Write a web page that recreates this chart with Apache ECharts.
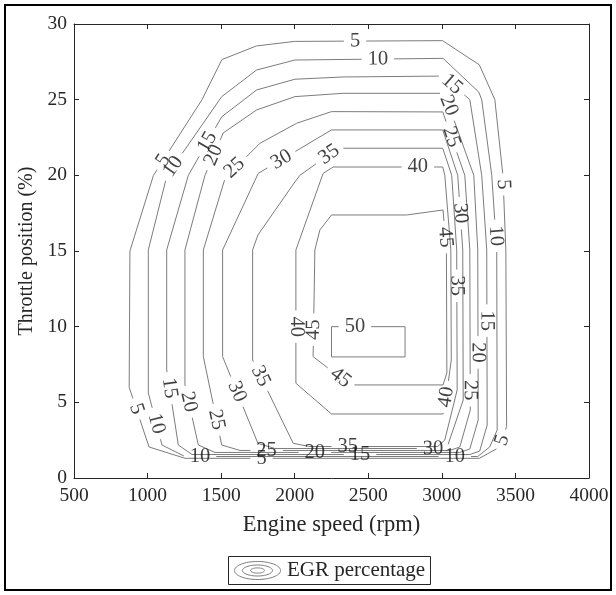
<!DOCTYPE html>
<html>
<head>
<meta charset="utf-8">
<script src="https://cdn.jsdelivr.net/npm/echarts@6/dist/echarts.min.js"></script>
<style>
  html, body { margin: 0; padding: 0; background: #ffffff; }
  #chart { width: 616px; height: 595px; }
</style>
</head>
<body>
<div id="chart"></div>
<script>
// Axis ranges (engine speed in rpm, throttle position in %)
const speedRange = [500, 4000];
const speedStep = 500;
const throttleRange = [0, 30];
const throttleStep = 5;

// EGR percentage iso-lines, each a closed path of [rpm, throttle %]
const egrLevels = [5, 10, 15, 20, 25, 30, 35, 40, 45, 50];

const egr05 = [[1255,1.3],[3255,1.3],[3395,2.05],[3440,3.4],[3435,15],[3415,20],[3360,25],[3255,27.3],[3005,28.9],[2000,28.85],[1740,28.55],[1505,27.65],[1370,25],[1040,20],[880,15],[875,6],[1010,2.05],[1255,1.3]];
const egr10 = [[1254,1.42],[3244,1.42],[3325,2.05],[3376,3.17],[3373,15.07],[3339,20],[3271,25],[3251,25.5],[3008,27.73],[2001,27.62],[1741,26.96],[1504,25.2],[1132,20],[1005,15.07],[1005,5.62],[1098,2.18],[1254,1.42]];
const egr15 = [[1302,1.55],[3190,1.55],[3257,1.78],[3308,3.5],[3305,15.07],[3271,20],[3190,25],[3006,26.56],[2329,26.5],[2001,26.35],[1741,25.64],[1504,23.87],[1277,20],[1130,15.07],[1130,7.14],[1209,2.18],[1302,1.55]];
const egr20 = [[1458,1.69],[3122,1.69],[3190,1.92],[3247,3.83],[3244,15.07],[3217,20],[3033,25],[3006,25.42],[2329,25.42],[2001,25.2],[1741,24.32],[1514,22.8],[1390,20],[1254,15.07],[1254,6.15],[1345,2.18],[1458,1.69]];
const egr25 = [[1628,1.82],[3054,1.82],[3122,2.05],[3193,4.49],[3190,15.07],[3156,20],[3006,24.19],[2250,24.21],[2013,23.44],[1764,22.12],[1662,21.13],[1533,20],[1379,15.07],[1379,8.02],[1504,2.18],[1628,1.82]];
const egr30 = [[1866,1.95],[2999,1.95],[3054,2.29],[3145,5.15],[3142,15.07],[3108,20],[3006,23],[2250,23],[2001,21.56],[1752,20.13],[1510,15.07],[1510,8.02],[1750,2.29],[1866,1.95]];
const egr35 = [[2103,2.08],[2972,2.08],[3020,2.51],[3104,5.82],[3101,15.07],[3067,20],[3006,21.79],[2293,21.79],[2035,20],[2001,19.56],[1750,16.06],[1714,15.07],[1714,7.8],[1990,2.29],[2103,2.08]];
const egr40 = [[2250,4.23],[3008,4.23],[3027,5.15],[3064,7.8],[3061,15.07],[3020,20],[3006,20.55],[2261,20.55],[2193,20.13],[2008,15.07],[2008,6.26],[2250,4.23]];
const egr45 = [[2375,6.15],[3008,6.15],[3034,6.94],[3031,15.07],[3008,17.71],[2760,17.38],[2250,17.38],[2171,16.39],[2137,15.07],[2125,8.02],[2375,6.15]];
const egr50 = [[2250,8],[2750,8],[2750,10],[2250,10],[2250,8]];

const egrPaths = [egr05, egr10, egr15, egr20, egr25, egr30, egr35, egr40, egr45, egr50];

// Approximate spots [rpm, throttle %] where each level is labelled on its line
const labelSpots = [
  [[2410,28.9],[1105,21],[905,4.5],[3408,19.4],[3439,2.4],[1775,1.3]],
  [[2565,27.7],[1170,20.6],[1060,3.6],[1356,1.42],[3360,16],[3088,1.42]],
  [[3067,26.0],[1424,22.1],[1125,5.9],[2444,1.55],[3305,10.4]],
  [[3040,24.6],[1480,21.2],[1265,5],[2137,1.69],[3244,8.3]],
  [[3054,22.5],[1590,20.5],[1444,3.8],[1809,1.82],[3201,5.8]],
  [[1900,21.2],[1580,5.6],[3133,17.5],[2940,1.95]],
  [[2225,21.5],[1741,6.6],[3101,12.7],[2361,2.08]],
  [[2837,20.55],[2008,10],[3033,5.35]],
  [[3010,15.9],[2137,9.8],[2286,6.3]],
  [[2409,10]]
];

const FONT = '"Liberation Serif", "Times New Roman", serif';
const INK = '#262626';
const ISO = '#7c7c7c';
const LABEL_SIZE = 20.5;

const chart = echarts.init(document.getElementById('chart'), null, { renderer: 'canvas' });

function ellipsePoints(cx, cy, rx, ry) {
  const pts = [];
  for (let i = 0; i < 64; i++) {
    const a = i / 64 * Math.PI * 2;
    pts.push([cx + rx * Math.cos(a), cy + ry * Math.sin(a)]);
  }
  return pts;
}

const axisCommon = {
  type: 'value',
  axisLine: { show: true, onZero: false, lineStyle: { color: INK, width: 1 } },
  axisTick: { show: true, inside: true, length: 5, lineStyle: { color: INK, width: 1 } },
  splitLine: { show: false }
};

const plainNumber = v => String(v);

const baseOption = {
  animation: false,
  backgroundColor: '#ffffff',
  grid: { left: 74, right: 27, top: 24, bottom: 117, outerBoundsMode: 'none', containLabel: false },
  xAxis: [
    Object.assign({}, axisCommon, {
      min: speedRange[0], max: speedRange[1], interval: speedStep, position: 'bottom',
      name: 'Engine speed (rpm)', nameLocation: 'middle', nameGap: 36,
      nameTextStyle: { fontFamily: FONT, fontSize: 22.5, color: INK },
      axisLabel: { margin: 8, fontFamily: FONT, fontSize: 19.5, color: INK, formatter: plainNumber }
    }),
    Object.assign({}, axisCommon, {
      min: speedRange[0], max: speedRange[1], interval: speedStep, position: 'top',
      axisLabel: { show: false }
    })
  ],
  yAxis: [
    Object.assign({}, axisCommon, {
      min: throttleRange[0], max: throttleRange[1], interval: throttleStep, position: 'left',
      name: 'Throttle position (%)', nameLocation: 'middle', nameGap: 37,
      nameTextStyle: { fontFamily: FONT, fontSize: 20, color: INK },
      axisLabel: { margin: 7, fontFamily: FONT, fontSize: 19.5, color: INK, formatter: plainNumber }
    }),
    Object.assign({}, axisCommon, {
      min: throttleRange[0], max: throttleRange[1], interval: throttleStep, position: 'right',
      axisLabel: { show: false }
    })
  ],
  graphic: [
    { type: 'rect', shape: { x: 5, y: 5, width: 606, height: 585 },
      style: { fill: 'none', stroke: '#000000', lineWidth: 2 }, silent: true },
    { type: 'rect', shape: { x: 228.5, y: 556.5, width: 202, height: 28 },
      style: { fill: '#ffffff', stroke: INK, lineWidth: 1 }, silent: true },
    { type: 'polygon', shape: { points: ellipsePoints(257.5, 570.5, 23, 9) },
      style: { fill: 'none', stroke: ISO, lineWidth: 1 }, silent: true },
    { type: 'polygon', shape: { points: ellipsePoints(257.5, 570.5, 15, 5.5) },
      style: { fill: 'none', stroke: ISO, lineWidth: 1 }, silent: true },
    { type: 'polygon', shape: { points: ellipsePoints(257.5, 570.5, 7, 2.6) },
      style: { fill: 'none', stroke: ISO, lineWidth: 1 }, silent: true },
    { type: 'text', x: 287, y: 570.5,
      style: { text: 'EGR percentage', font: '21px ' + FONT, fill: INK, textVerticalAlign: 'middle', verticalAlign: 'middle' },
      silent: true }
  ],
  series: egrPaths.map(p => ({
    type: 'line', data: p, showSymbol: false, symbol: 'none', silent: true,
    lineStyle: { color: ISO, width: 1 }
  }))
};

chart.setOption(baseOption);

// ---- contour label placement: break each line where its label sits ----
const finder = { xAxisIndex: 0, yAxisIndex: 0 };
const toPx = p => chart.convertToPixel(finder, p);
const toData = p => chart.convertFromPixel(finder, p);

const measureCtx = document.createElement('canvas').getContext('2d');
measureCtx.font = LABEL_SIZE + 'px ' + FONT;

function cumLengths(px) {
  const c = [0];
  for (let i = 1; i < px.length; i++) {
    c.push(c[i - 1] + Math.hypot(px[i][0] - px[i - 1][0], px[i][1] - px[i - 1][1]));
  }
  return c;
}

function pointAt(px, cum, s) {
  const L = cum[cum.length - 1];
  s = Math.max(0, Math.min(L, s));
  for (let i = 1; i < px.length; i++) {
    if (s <= cum[i]) {
      const seg = cum[i] - cum[i - 1];
      const t = seg ? (s - cum[i - 1]) / seg : 0;
      return [px[i - 1][0] + t * (px[i][0] - px[i - 1][0]), px[i - 1][1] + t * (px[i][1] - px[i - 1][1])];
    }
  }
  return px[px.length - 1].slice();
}

function nearestOnPath(px, cum, q) {
  let best = { d: Infinity, s: 0 };
  for (let i = 1; i < px.length; i++) {
    const a = px[i - 1], b = px[i];
    const dx = b[0] - a[0], dy = b[1] - a[1];
    const L2 = dx * dx + dy * dy;
    let t = L2 ? ((q[0] - a[0]) * dx + (q[1] - a[1]) * dy) / L2 : 0;
    t = Math.max(0, Math.min(1, t));
    const x = a[0] + t * dx, y = a[1] + t * dy;
    const d = Math.hypot(q[0] - x, q[1] - y);
    if (d < best.d) best = { d: d, s: cum[i - 1] + t * Math.sqrt(L2) };
  }
  return best;
}

function splitPath(px, cum, gaps) {
  const L = cum[cum.length - 1];
  const g = [];
  gaps.forEach(([a, b]) => {
    if (a < 0) { g.push([L + a, L]); g.push([0, b]); }
    else if (b > L) { g.push([a, L]); g.push([0, b - L]); }
    else g.push([a, b]);
  });
  const events = [];
  cum.forEach((s, i) => events.push({ s: s, k: 1, i: i }));
  g.forEach(([a, b]) => { events.push({ s: a, k: 0 }); events.push({ s: b, k: 2 }); });
  events.sort((p, q) => (p.s - q.s) || (p.k - q.k));
  const pieces = [];
  let cur = [];
  let depth = 0;
  for (const e of events) {
    if (e.k === 0) {
      if (depth === 0) {
        cur.push(pointAt(px, cum, e.s));
        if (cur.length > 1) pieces.push(cur);
        cur = [];
      }
      depth++;
    } else if (e.k === 2) {
      depth--;
      if (depth === 0) cur = [pointAt(px, cum, e.s)];
    } else if (depth === 0) {
      cur.push(px[e.i]);
    }
  }
  if (cur.length > 1) pieces.push(cur);
  return pieces;
}

const lineSeries = [];
const labelData = [];

egrPaths.forEach((path, li) => {
  const level = egrLevels[li];
  const text = String(level);
  const w = measureCtx.measureText(text).width;
  const half = w / 2 + 6;
  const px = path.map(toPx);
  const cum = cumLengths(px);
  const gaps = [];
  labelSpots[li].forEach(spot => {
    const hit = nearestOnPath(px, cum, toPx(spot));
    const p = pointAt(px, cum, hit.s);
    const pa = pointAt(px, cum, hit.s - half * 0.6);
    const pb = pointAt(px, cum, hit.s + half * 0.6);
    let ang = Math.atan2(-(pb[1] - pa[1]), pb[0] - pa[0]) * 180 / Math.PI;
    if (ang > 90.01) ang -= 180;
    if (ang <= -90.01) ang += 180;
    gaps.push([hit.s - half, hit.s + half]);
    labelData.push({ value: toData(p), name: text, label: { rotate: ang } });
  });
  splitPath(px, cum, gaps).forEach(piece => {
    lineSeries.push({
      type: 'line', data: piece.map(toData), showSymbol: false, symbol: 'none',
      silent: true, lineStyle: { color: ISO, width: 1 }, z: 2
    });
  });
});

lineSeries.push({
  type: 'scatter', data: labelData, symbolSize: 1, silent: true, z: 3,
  itemStyle: { color: 'rgba(0,0,0,0)' },
  label: {
    show: true, position: 'inside', formatter: p => p.name,
    fontFamily: FONT, fontSize: LABEL_SIZE, color: '#111111',
    align: 'center', verticalAlign: 'middle'
  }
});

chart.setOption({ series: lineSeries }, { replaceMerge: ['series'] });
</script>
</body>
</html>
